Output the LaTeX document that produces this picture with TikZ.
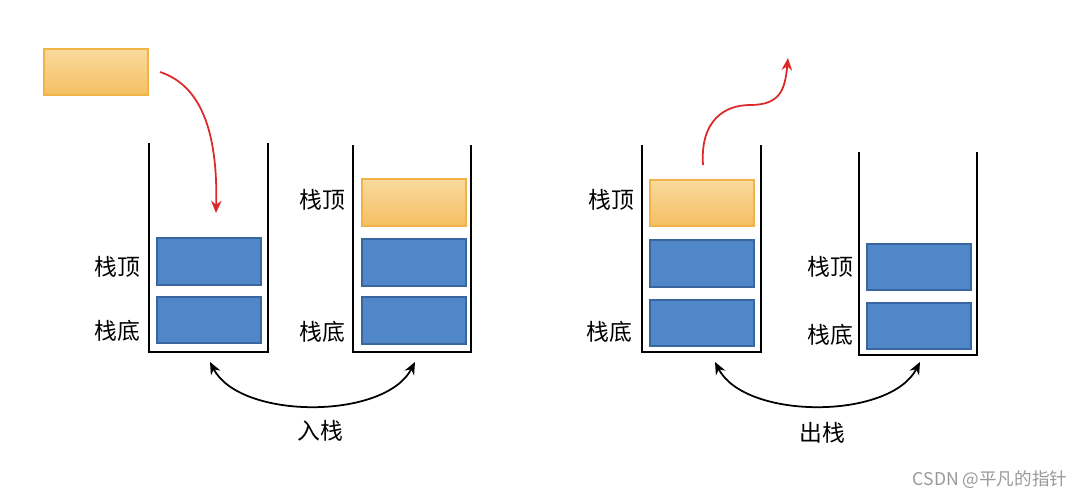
\documentclass[tikz,border=0pt]{standalone}
\usepackage{fontspec}
\setmainfont{Noto Sans CJK SC}
\usetikzlibrary{arrows.meta}
\definecolor{bl}{HTML}{5087C8}
\definecolor{bld}{HTML}{3A66A0}
\definecolor{orl}{HTML}{FADA9E}
\definecolor{ord}{HTML}{F5BF62}
\definecolor{ore}{HTML}{F0B347}
\tikzset{
 blbox/.style={fill=bl,draw=bld,line width=0.6pt},
 orbox/.style={top color=orl,bottom color=ord,draw=ore,line width=0.6pt},
 wall/.style={line width=1.3pt,black},
 lab/.style={font=\fontsize{13pt}{15pt}\selectfont},
 redarr/.style={draw={rgb,255:red,220;green,40;blue,40},line width=1pt,-{Stealth[length=7pt,width=6pt]}},
 blkarr/.style={draw=black,line width=1pt,{Stealth[length=7pt,width=6pt]}-{Stealth[length=7pt,width=6pt]}}
}
\begin{document}
\begin{tikzpicture}[x=0.02cm,y=-0.02cm]
\useasboundingbox (0,0) rectangle (1090,498);
% stack 1
\draw[wall] (149,143) -- (149,352) -- (268,352) -- (268,143);
\path[blbox] (157,238) rectangle (261,285);
\path[blbox] (157,297) rectangle (261,343);
\node[lab] (t1) at (117,267) {栈顶};
\node[lab] (b1) at (117,331) {栈底};
\path[orbox] (44,49) rectangle (148,95);
\coordinate (r1s) at (160,72);
\coordinate (r1e) at (216,213);
\draw[redarr] (r1s) .. controls (200,85) and (218,130) .. (r1e);
% stack 2
\draw[wall] (353,145) -- (353,352) -- (471,352) -- (471,145);
\path[orbox] (362,179) rectangle (466,226);
\path[blbox] (362,239) rectangle (466,286);
\path[blbox] (362,297) rectangle (466,344);
\node[lab] (t2) at (322,200) {栈顶};
\node[lab] (b2) at (322,332) {栈底};
% stack 3
\draw[wall] (642,145) -- (642,352) -- (761,352) -- (761,145);
\path[orbox] (650,180) rectangle (754,226);
\path[blbox] (650,240) rectangle (754,287);
\path[blbox] (650,300) rectangle (754,346);
\node[lab] (t3) at (611,200) {栈顶};
\node[lab] (b3) at (609,332) {栈底};
\coordinate (r2s) at (703,165);
\coordinate (r2e) at (788,58);
\draw[redarr] (r2s) .. controls (700,120) and (725,105) .. (750,105) .. controls (780,105) and (785,90) .. (r2e);
% stack 4
\draw[wall] (859,152) -- (859,355) -- (977,355) -- (977,152);
\path[blbox] (867,244) rectangle (971,290);
\path[blbox] (867,303) rectangle (971,349);
\node[lab] (t4) at (830,267) {栈顶};
\node[lab] (b4) at (830,335) {栈底};
% bottom arrows
\coordinate (a1) at (210,362); \coordinate (a2) at (415,362);
\draw[blkarr] (a1) .. controls (240,420) and (385,420) .. (a2);
\node[lab] (in) at (320,431) {入栈};
\coordinate (c1) at (715,362); \coordinate (c2) at (920,362);
\draw[blkarr] (c1) .. controls (745,420) and (890,420) .. (c2);
\node[lab] (out) at (822,433) {出栈};
\node[text=gray!80,font=\fontsize{10pt}{12pt}\selectfont] (wm) at (990,480) {CSDN @平凡的指针};
\end{tikzpicture}
\end{document}
